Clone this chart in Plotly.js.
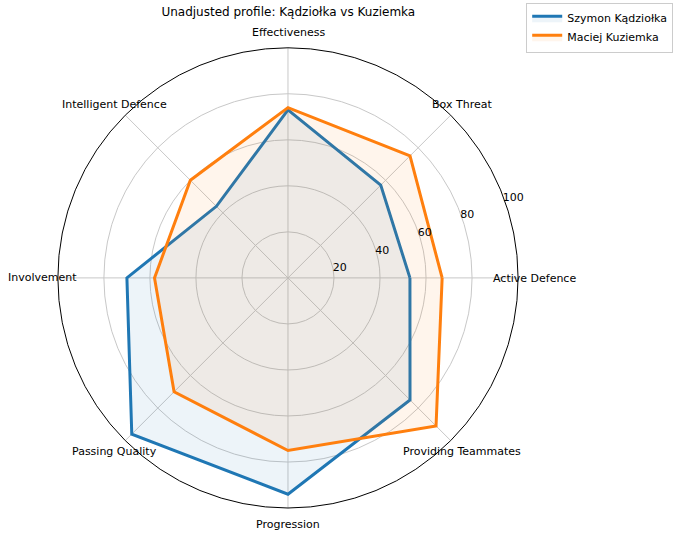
<!DOCTYPE html>
<html><head><meta charset="utf-8">
<script src="https://cdn.plot.ly/plotly-3.0.1.min.js"></script>
<style>body{margin:0}</style></head>
<body><div id="chart" style="width:680px;height:537px"></div>
<script>
const categories = ['Active Defence', 'Box Threat', 'Effectiveness', 'Intelligent Defence',
  'Involvement', 'Passing Quality', 'Progression', 'Providing Teammates'];
const kadziolka = [53, 57, 73, 44, 70, 96, 94, 75];
const kuziemka = [67, 75, 74, 60, 58, 70, 75, 91];

function closed(a) { return a.concat([a[0]]); }

const traces = [
  { name: 'Szymon Kądziołka', vals: kadziolka, color: '#1f77b4', fill: 'rgba(31,119,180,0.08)' },
  { name: 'Maciej Kuziemka', vals: kuziemka, color: '#ff7f0e', fill: 'rgba(255,127,14,0.08)' }
].map(s => ({
  type: 'scatterpolar', mode: 'lines', name: s.name,
  r: closed(s.vals), theta: closed(categories),
  line: { color: s.color, width: 3 }, fill: 'toself', fillcolor: s.fill
}));

// category labels placed just outside the circle, like matplotlib does
const cx = 288, cy = 278, labelR = 246;
const annotations = categories.map((c, i) => {
  const a = i * Math.PI / 4;
  return {
    text: c, showarrow: false, xref: 'paper', yref: 'paper',
    x: (cx + labelR * Math.cos(a)) / 680, y: 1 - (cy - labelR * Math.sin(a)) / 537,
    xanchor: 'center', yanchor: 'middle', font: { size: 11 }
  };
});

Plotly.newPlot('chart', traces, {
  width: 680, height: 537,
  margin: { l: 0, r: 0, t: 0, b: 0 },
  font: { family: 'DejaVu Sans', size: 11, color: '#000' },
  title: { text: 'Unadjusted profile: Kądziołka vs Kuziemka', x: 0.424, xanchor: 'center', y: 0.985, yanchor: 'top', font: { size: 12 } },
  showlegend: true,
  legend: { x: 0.99, xanchor: 'right', y: 0.995, yanchor: 'top', bordercolor: '#ccc', borderwidth: 1, font: { size: 11 } },
  annotations: annotations,
  polar: {
    domain: { x: [0.085, 0.762], y: [0.054, 0.911] },
    bgcolor: 'white',
    angularaxis: { rotation: 0, direction: 'counterclockwise', gridcolor: '#c8c8c8', linecolor: '#000', linewidth: 1, showline: true, ticks: '', showticklabels: false },
    radialaxis: { range: [0, 100], tickvals: [20, 40, 60, 80, 100], angle: 22.5, tickangle: 22.5, gridcolor: '#c8c8c8', showline: false, ticks: '' }
  }
}, { displayModeBar: false });
</script></body></html>
